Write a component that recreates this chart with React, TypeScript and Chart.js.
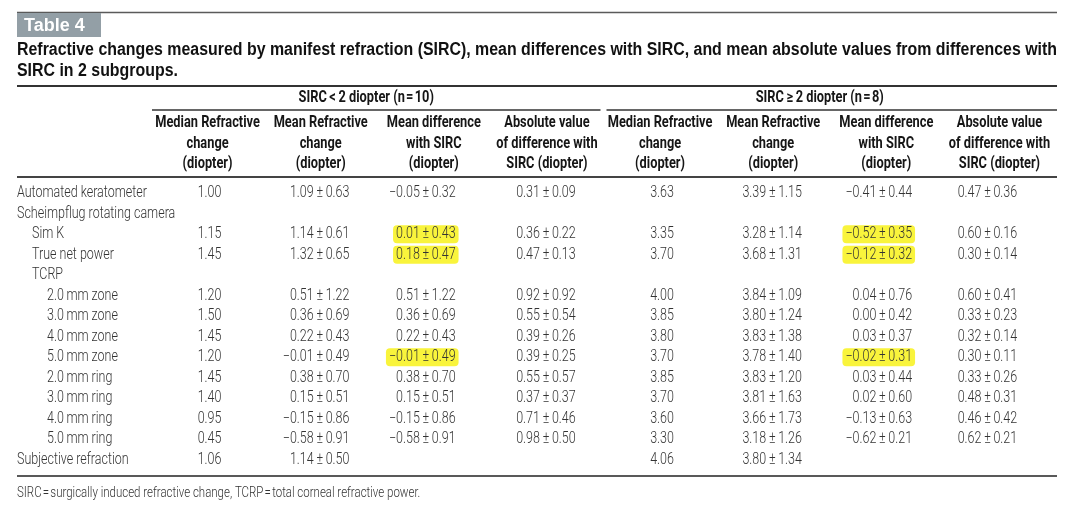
import React, { useEffect, useRef } from "react";
import { Chart, registerables } from "chart.js";

Chart.register(...registerables);

// ---------- data ----------
const tableNumber = "Table 4";
const titleLines = [
  "Refractive changes measured by manifest refraction (SIRC), mean differences with SIRC, and mean absolute values from differences with",
  "SIRC in 2 subgroups.",
];
const groupTitles = ["SIRC\u2009<\u20092 diopter (n\u200a=\u200a10)", "SIRC\u2009\u2265\u20092 diopter (n\u200a=\u200a8)"];
const columnHeaders = [
  ["Median Refractive", "change", "(diopter)"],
  ["Mean Refractive", "change", "(diopter)"],
  ["Mean difference", "with SIRC", "(diopter)"],
  ["Absolute value", "of difference with", "SIRC (diopter)"],
];
const footnote = "SIRC\u200a=\u200asurgically induced refractive change, TCRP\u200a=\u200atotal corneal refractive power.";

const rows = [
  "Automated keratometer",
  "Scheimpflug rotating camera",
  "Sim K",
  "True net power",
  "TCRP",
  "2.0\u2009mm zone",
  "3.0\u2009mm zone",
  "4.0\u2009mm zone",
  "5.0\u2009mm zone",
  "2.0\u2009mm ring",
  "3.0\u2009mm ring",
  "4.0\u2009mm ring",
  "5.0\u2009mm ring",
  "Subjective refraction",
];
const rowLevels = [0, 0, 1, 1, 1, 2, 2, 2, 2, 2, 2, 2, 2, 0];

const median1 = [1.0, null, 1.15, 1.45, null, 1.2, 1.5, 1.45, 1.2, 1.45, 1.4, 0.95, 0.45, 1.06];
const mean1 = [1.09, null, 1.14, 1.32, null, 0.51, 0.36, 0.22, -0.01, 0.38, 0.15, -0.15, -0.58, 1.14];
const sd1 = [0.63, null, 0.61, 0.65, null, 1.22, 0.69, 0.43, 0.49, 0.7, 0.51, 0.86, 0.91, 0.5];
const diff1 = [-0.05, null, 0.01, 0.18, null, 0.51, 0.36, 0.22, -0.01, 0.38, 0.15, -0.15, -0.58, null];
const diffSd1 = [0.32, null, 0.43, 0.47, null, 1.22, 0.69, 0.43, 0.49, 0.7, 0.51, 0.86, 0.91, null];
const abs1 = [0.31, null, 0.36, 0.47, null, 0.92, 0.55, 0.39, 0.39, 0.55, 0.37, 0.71, 0.98, null];
const absSd1 = [0.09, null, 0.22, 0.13, null, 0.92, 0.54, 0.26, 0.25, 0.57, 0.37, 0.46, 0.5, null];

const median2 = [3.63, null, 3.35, 3.7, null, 4.0, 3.85, 3.8, 3.7, 3.85, 3.7, 3.6, 3.3, 4.06];
const mean2 = [3.39, null, 3.28, 3.68, null, 3.84, 3.8, 3.83, 3.78, 3.83, 3.81, 3.66, 3.18, 3.8];
const sd2 = [1.15, null, 1.14, 1.31, null, 1.09, 1.24, 1.38, 1.4, 1.2, 1.63, 1.73, 1.26, 1.34];
const diff2 = [-0.41, null, -0.52, -0.12, null, 0.04, 0.0, 0.03, -0.02, 0.03, 0.02, -0.13, -0.62, null];
const diffSd2 = [0.44, null, 0.35, 0.32, null, 0.76, 0.42, 0.37, 0.31, 0.44, 0.6, 0.63, 0.21, null];
const abs2 = [0.47, null, 0.6, 0.3, null, 0.6, 0.33, 0.32, 0.3, 0.33, 0.48, 0.46, 0.62, null];
const absSd2 = [0.36, null, 0.16, 0.14, null, 0.41, 0.23, 0.14, 0.11, 0.26, 0.31, 0.42, 0.21, null];

const highlightedRows = ["Sim K", "True net power", "5.0\u2009mm zone"];

const columnKeys = ["median1", "mean1", "diff1", "abs1", "median2", "mean2", "diff2", "abs2"];
const columnValues = [median1, mean1, diff1, abs1, median2, mean2, diff2, abs2];
const columnSds = [null, sd1, diffSd1, absSd1, null, sd2, diffSd2, absSd2];
const highlightColumns = ["diff1", "diff2"];

// ---------- styles ----------
const W = 1080;
const H = 514;
const BODY_FONT = "300 16px Roboto, 'Liberation Sans', sans-serif";
const BODY_SX = 0.78;
const HEAD_FONT = "bold 16px Roboto, 'Liberation Sans', sans-serif";
const HEAD_SX = 0.8;
const TEXT = "#333333";
const HEAD = "#161616";
const anchorShift = [1, -2, -9, -2, 1, -2, -5, -13];

const fmt = (v: number) => (v < 0 ? "\u2212" : "") + Math.abs(v).toFixed(2);

function drawText(ctx: CanvasRenderingContext2D, s: string, x: number, y: number, font: string, color: string, align: CanvasTextAlign, sx: number) {
  ctx.save();
  ctx.font = font;
  ctx.fillStyle = color;
  ctx.textAlign = align;
  ctx.textBaseline = "middle";
  ctx.translate(x, y);
  ctx.scale(sx, 1);
  ctx.fillText(s, 0, 0);
  ctx.restore();
}
function textWidth(ctx: CanvasRenderingContext2D, s: string, font: string, sx: number) {
  ctx.save();
  ctx.font = font;
  const w = ctx.measureText(s).width * sx;
  ctx.restore();
  return w;
}
function hline(ctx: CanvasRenderingContext2D, x1: number, x2: number, y: number, lw: number, color: string) {
  ctx.save();
  ctx.strokeStyle = color;
  ctx.lineWidth = lw;
  ctx.beginPath();
  ctx.moveTo(x1, y);
  ctx.lineTo(x2, y);
  ctx.stroke();
  ctx.restore();
}

const PM_GAP = 6;

function pmExtent(ctx: CanvasRenderingContext2D, v: number, sd: number, ax: number) {
  const lw = textWidth(ctx, fmt(v), BODY_FONT, BODY_SX);
  const rw = textWidth(ctx, fmt(sd), BODY_FONT, BODY_SX);
  return [ax - PM_GAP - lw, ax + PM_GAP + rw];
}

const tablePlugin = {
  id: "tablePlugin",
  beforeDatasetsDraw(chart: any) {
    const ctx: CanvasRenderingContext2D = chart.ctx;
    const area = chart.chartArea;
    const xs = chart.scales.x;
    const tableLeft = 17;
    const tableRight = area.right;

    ctx.save();
    ctx.fillStyle = "#ffffff";
    ctx.fillRect(0, 0, W, H);
    ctx.restore();

    // top rule + table number box
    hline(ctx, tableLeft, tableRight, 12.5, 1.5, "#5a5a5a");
    ctx.save();
    ctx.fillStyle = "#939fa6";
    ctx.fillRect(tableLeft, 13, 84, 24);
    ctx.restore();
    drawText(ctx, tableNumber, 24, 26, "bold 18px 'Liberation Sans', Arial, sans-serif", "#ffffff", "left", 1.0);

    // title
    const tFont = "bold 18px 'Liberation Sans', Arial, sans-serif";
    const tw = textWidth(ctx, titleLines[0], tFont, 1);
    const tsx = (tableRight - tableLeft) / tw;
    drawText(ctx, titleLines[0], tableLeft, 50, tFont, "#111", "left", tsx);
    drawText(ctx, titleLines[1], tableLeft, 71, tFont, "#111", "left", tsx);
    hline(ctx, tableLeft, tableRight, 86, 2, "#333");

    // group titles and underlines
    const colX = columnKeys.map((_, i) => xs.getPixelForValue(i));
    const half = (colX[1] - colX[0]) / 2;
    const g1L = area.left;
    const g1R = colX[3] + half - 4;
    const g2L = colX[4] - half + 2;
    const g2R = tableRight;
    drawText(ctx, groupTitles[0], (g1L + g1R) / 2 - 10, 98, HEAD_FONT, HEAD, "center", HEAD_SX);
    drawText(ctx, groupTitles[1], (g2L + g2R) / 2 - 12, 98, HEAD_FONT, HEAD, "center", HEAD_SX);
    hline(ctx, g1L, g1R, 110, 1.5, "#333");
    hline(ctx, g2L, g2R, 110, 1.5, "#333");

    // column headers
    colX.forEach((x, i) => {
      const lines = columnHeaders[i % 4];
      lines.forEach((l, j) => drawText(ctx, l, x - 1, 123 + j * 20.5, HEAD_FONT, HEAD, "center", HEAD_SX));
    });
    hline(ctx, tableLeft, tableRight, 177, 2, "#444");

    // highlights
    chart.data.datasets.forEach((ds: any, di: number) => {
      if (!highlightColumns.includes(ds.key)) return;
      const meta = chart.getDatasetMeta(di);
      ds.data.forEach((p: any, j: number) => {
        if (!highlightedRows.includes(p.y)) return;
        const el = meta.data[j];
        const [l, r] = pmExtent(ctx, p.v, p.sd, el.x + anchorShift[di]);
        ctx.save();
        ctx.fillStyle = "#f9f43c";
        ctx.beginPath();
        (ctx as any).roundRect(l - 3, el.y - 9, r - l + 6, 18, 4);
        ctx.fill();
        ctx.restore();
      });
    });
  },
  afterDatasetsDraw(chart: any) {
    const ctx: CanvasRenderingContext2D = chart.ctx;
    const area = chart.chartArea;
    const ys = chart.scales.y;

    rows.forEach((r, i) => {
      const y = ys.getPixelForValue(i);
      drawText(ctx, r, 17 + rowLevels[i] * 15, y, BODY_FONT, TEXT, "left", BODY_SX);
    });

    chart.data.datasets.forEach((ds: any, di: number) => {
      const meta = chart.getDatasetMeta(di);
      ds.data.forEach((p: any, j: number) => {
        const el = meta.data[j];
        const ax = el.x + anchorShift[di];
        if (p.sd == null) {
          drawText(ctx, fmt(p.v), ax, el.y, BODY_FONT, TEXT, "center", BODY_SX);
        } else {
          drawText(ctx, fmt(p.v), ax - PM_GAP, el.y, BODY_FONT, TEXT, "right", BODY_SX);
          drawText(ctx, "\u00b1", ax, el.y, BODY_FONT, TEXT, "center", BODY_SX);
          drawText(ctx, fmt(p.sd), ax + PM_GAP, el.y, BODY_FONT, TEXT, "left", BODY_SX);
        }
      });
    });

    hline(ctx, 17, area.right, 476, 1.5, "#222");
    drawText(ctx, footnote, 17, 493, "300 14px Roboto, 'Liberation Sans', sans-serif", "#333", "left", 0.82);
  },
};

export default function App() {
  const ref = useRef<HTMLCanvasElement | null>(null);
  useEffect(() => {
    document.body.style.margin = "0";
    document.body.style.overflow = "hidden";
    const canvas = ref.current;
    if (!canvas) return;
    const datasets = columnKeys.map((key, ci) => {
      const vals = columnValues[ci];
      const sds = columnSds[ci];
      const data: any[] = [];
      vals.forEach((v, ri) => {
        if (v == null) return;
        data.push({ x: key, y: rows[ri], v, sd: sds ? sds[ri] : null });
      });
      return { key, label: key, data, pointRadius: 0, pointHoverRadius: 0 } as any;
    });
    const chart = new Chart(canvas, {
      type: "scatter",
      data: { datasets },
      options: {
        animation: false,
        responsive: false,
        devicePixelRatio: 1,
        events: [],
        layout: { padding: { left: 152, right: 23, top: 183, bottom: 44 } },
        scales: {
          x: { type: "category", labels: columnKeys, offset: true, display: false },
          y: { type: "category", labels: rows, offset: true, display: false },
        },
        plugins: { legend: { display: false }, tooltip: { enabled: false }, title: { display: false } },
      } as any,
      plugins: [tablePlugin],
    });
    return () => chart.destroy();
  }, []);
  return (
    <div style={{ width: W, height: H, background: "#fff" }}>
      <canvas ref={ref} width={W} height={H} style={{ display: "block", width: W, height: H }} />
    </div>
  );
}
